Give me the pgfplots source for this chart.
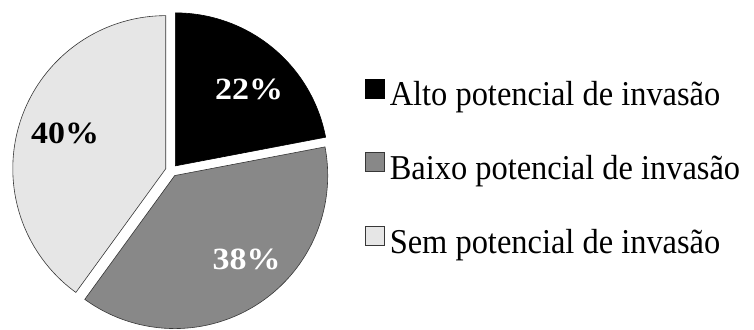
\documentclass[border=0pt]{standalone}
\usepackage{pgfplots}
\pgfplotsset{compat=1.18}
\usepackage{pgfplotstable}
\usepackage{fontspec}
\setmainfont{Liberation Serif}
\newfontfamily\legfont{Liberation Serif}[FakeStretch=0.93]
\newfontfamily\labfont{Liberation Serif}[FakeStretch=1.1]
\definecolor{sgray}{RGB}{136,136,136}
\definecolor{slight}{RGB}{230,230,230}
\definecolor{sedge}{RGB}{55,55,55}
\pgfplotstableread{
label value
Alto 22
Baixo 38
Sem 40
}\piedata
\begin{document}
\begin{tikzpicture}
\pgfplotstablegetelem{0}{value}\of\piedata \let\va\pgfplotsretval
\pgfplotstablegetelem{1}{value}\of\piedata \let\vb\pgfplotsretval
\pgfplotstablegetelem{2}{value}\of\piedata \let\vc\pgfplotsretval
\pgfmathsetmacro\cx{171.5}
\pgfmathsetmacro\cy{158.5}
\pgfmathsetmacro\rr{153}
\pgfmathsetmacro\ex{6}
% angles (clockwise from 90)
\pgfmathsetmacro\aA{90}
\pgfmathsetmacro\aB{90-3.6*\va}
\pgfmathsetmacro\aC{\aB-3.6*\vb}
\pgfmathsetmacro\aD{\aC-3.6*\vc}
% apex offsets
\pgfmathsetmacro\xA{\cx+\ex*cos((\aA+\aB)/2)}
\pgfmathsetmacro\yA{\cy+\ex*sin((\aA+\aB)/2)}
\pgfmathsetmacro\xB{\cx+\ex*cos((\aB+\aC)/2)}
\pgfmathsetmacro\yB{\cy+\ex*sin((\aB+\aC)/2)}
\pgfmathsetmacro\xC{\cx+\ex*cos((\aC+\aD)/2)}
\pgfmathsetmacro\yC{\cy+\ex*sin((\aC+\aD)/2)}
\begin{axis}[
  x=1bp, y=1bp, xmin=0, xmax=754, ymin=0, ymax=329,
  scale only axis, hide axis, clip=false,
  legend cell align=left,
  legend image code/.code={\draw[#1, line width=0.6bp] (0bp,-1bp) rectangle (19bp,18bp);},
  legend style={at={(axis cs:365,250.7)}, anchor=north west, draw=none, fill=none,
    inner sep=0pt, row sep=38.5bp, column sep=5bp,
    font=\legfont\fontsize{35}{40}\selectfont,
    nodes={inner sep=0pt, text height=26bp, text depth=8bp}},
]
\addplot[draw=none, forget plot] coordinates {(0,0) (754,329)};
\addplot[fill=black, draw=black, line width=0.6bp, domain=\aB:\aA, samples=80, variable=\t]
  ({\xA+\rr*cos(\t)},{\yA+\rr*sin(\t)}) -- (axis cs:\xA,\yA) -- cycle;
\addlegendentry{Alto potencial de invasão}
\addplot[fill=sgray, draw=sedge, line width=0.6bp, domain=\aC:\aB, samples=120, variable=\t]
  ({\xB+\rr*cos(\t)},{\yB+\rr*sin(\t)}) -- (axis cs:\xB,\yB) -- cycle;
\addlegendentry{Baixo potencial de invasão}
\addplot[fill=slight, draw=sedge, line width=0.6bp, domain=\aD:\aC, samples=120, variable=\t]
  ({\xC+\rr*cos(\t)},{\yC+\rr*sin(\t)}) -- (axis cs:\xC,\yC) -- cycle;
\addlegendentry{Sem potencial de invasão}
\node[anchor=base, inner sep=0pt, text=white, font=\labfont\fontsize{31}{36}\selectfont\bfseries] at (axis cs:249,229.7) {22\%};
\node[anchor=base, inner sep=0pt, text=white, font=\labfont\fontsize{31}{36}\selectfont\bfseries] at (axis cs:246.5,60) {38\%};
\node[anchor=base, inner sep=0pt, text=black, font=\labfont\fontsize{31}{36}\selectfont\bfseries] at (axis cs:65,185.7) {40\%};
\end{axis}
\end{tikzpicture}
\end{document}
